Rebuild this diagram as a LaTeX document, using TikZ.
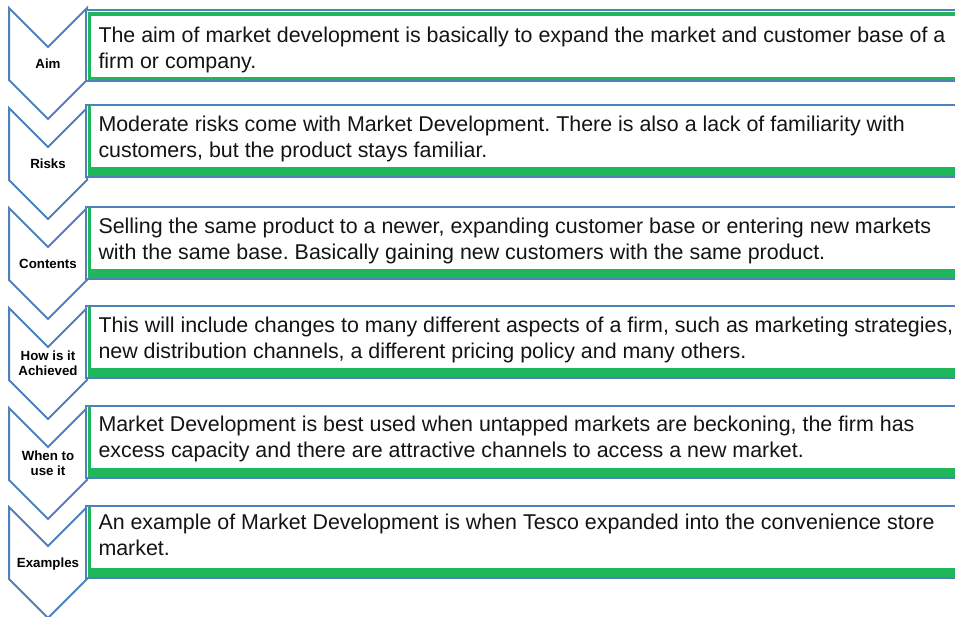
\documentclass[tikz,border=0pt]{standalone}
\usepackage{fontspec}
\setmainfont{Liberation Sans}
\definecolor{cblue}{RGB}{79,129,189}
\definecolor{cgreen}{RGB}{32,182,92}
\begin{document}
\frenchspacing
\begin{tikzpicture}[x=1pt,y=-1pt,
  chev/.style={draw=cblue,line width=2pt,fill=white,line join=miter},
  boxframe/.style={draw=cblue,line width=1.7pt,fill=white},
  gband/.style={fill=cgreen,draw=none},
  lbl/.style={font=\fontsize{13.3}{15}\selectfont\bfseries,align=center,anchor=north,inner sep=0pt,outer sep=0pt,text=black},
  txt/.style={font=\fontsize{21.4}{26}\selectfont\frenchspacing,align=left,anchor=north west,inner sep=0pt,outer sep=0pt,text=black!92}]
\useasboundingbox (0,0) rectangle (955,616);
\clip (0,0) rectangle (955,616);
% chevrons
\foreach \t in {8,108,208,308,408,507}{
  \draw[chev] (9,\t) -- (48,\t+39) -- (87,\t) -- (87,\t+72) -- (48,\t+111) -- (9,\t+72) -- cycle;
}
% box 1 (special)
\draw[boxframe] (86,10) rectangle (960,81);
\fill[gband] (88,12) rectangle (960,16);
\fill[gband] (88,12) rectangle (91,80);
\fill[gband] (88,77) rectangle (960,80);
% boxes 2-6
\foreach \T/\B in {105/177,207/279,306/378,406/478,506/578}{
  \draw[boxframe] (86,\T) rectangle (960,\B);
  \fill[gband] (87.5,\T+1) rectangle (90.5,\B-2);
  \fill[gband] (87.5,\B-10.5) rectangle (960,\B-1.5);
}
% labels
\node[lbl] (l1) at (48,57) {\rule{0pt}{11pt}Aim};
\node[lbl] (l2) at (48,157) {\rule{0pt}{11pt}Risks};
\node[lbl] (l3) at (48,257) {\rule{0pt}{11pt}Contents};
\node[lbl] (l4) at (48,349) {\rule{0pt}{11pt}How is it\\Achieved};
\node[lbl] (l5) at (48,449) {\rule{0pt}{11pt}When to\\use it};
\node[lbl] (l6) at (48,556) {\rule{0pt}{11pt}Examples};
% texts
\node[txt] (t1) at (98.5,25) {\rule{0pt}{17pt}The aim of market development is basically to expand the market and customer base of a\\firm or company.};
\node[txt] (t2) at (98.5,114) {\rule{0pt}{17pt}Moderate risks come with Market Development. There is also a lack of familiarity with\\customers, but the product stays familiar.};
\node[txt] (t3) at (98.5,216) {\rule{0pt}{17pt}Selling the same product to a newer, expanding customer base or entering new markets\\with the same base. Basically gaining new customers with the same product.};
\node[txt] (t4) at (98.5,315) {\rule{0pt}{17pt}This will include changes to many different aspects of a firm, such as marketing strategies,\\new distribution channels, a different pricing policy and many others.};
\node[txt] (t5) at (98.5,414) {\rule{0pt}{17pt}Market Development is best used when untapped markets are beckoning, the firm has\\excess capacity and there are attractive channels to access a new market.};
\node[txt] (t6) at (98.5,512) {\rule{0pt}{17pt}An example of Market Development is when Tesco expanded into the convenience store\\market.};
\end{tikzpicture}
\end{document}
